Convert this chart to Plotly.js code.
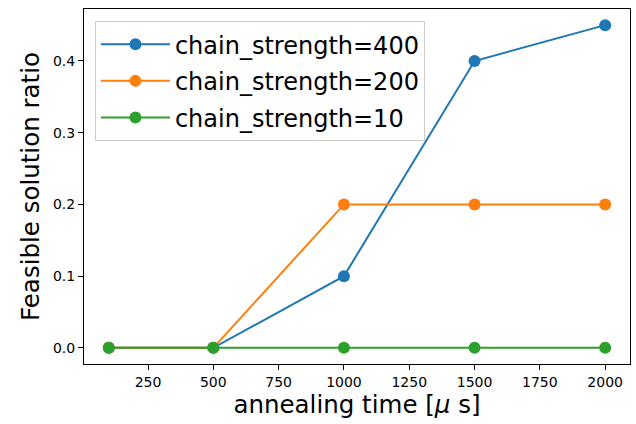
<!DOCTYPE html>
<html><head><meta charset="utf-8">
<script src="https://cdn.plot.ly/plotly-3.0.1.min.js"></script>
<style>html,body{margin:0;padding:0;background:#fff}#chart{width:636px;height:424px}</style>
</head><body><div id="chart"></div>
<script>
const annealingTime = [100, 500, 1000, 1500, 2000];
const cs400 = [0, 0, 0.1, 0.4, 0.45];
const cs200 = [0, 0, 0.2, 0.2, 0.2];
const cs10 = [0, 0, 0, 0, 0];
const seriesNames = ['chain_strength=400', 'chain_strength=200', 'chain_strength=10'];
const seriesColors = ['#1f77b4', '#ff7f0e', '#2ca02c'];
const xTicks = [250, 500, 750, 1000, 1250, 1500, 1750, 2000];
const yTicks = [0, 0.1, 0.2, 0.3, 0.4];

const series = [cs400, cs200, cs10];
const traces = series.map((ys, i) => ({
  x: annealingTime, y: ys, type: 'scatter', mode: 'lines+markers',
  name: seriesNames[i], legendgroup: 'g' + i,
  line: {color: seriesColors[i], width: 2},
  marker: {color: seriesColors[i], size: 12}
}));

const font = 'DejaVu Sans, sans-serif';
const layout = {
  width: 636, height: 424,
  margin: {l: 84, r: 6, t: 9, b: 60},
  paper_bgcolor: '#fff', plot_bgcolor: '#fff',
  font: {family: font, color: '#000'},
  showlegend: true,
  legend: {
    x: 0.02, y: 0.966, xanchor: 'left', yanchor: 'top',
    bgcolor: 'rgba(255,255,255,0.8)', bordercolor: '#cccccc', borderwidth: 1,
    font: {family: font, size: 24, color: '#000'},
    tracegroupgap: 2.5, itemwidth: 69
  },
  xaxis: {
    range: [5, 2095], tickvals: xTicks, ticktext: xTicks.map(String),
    showgrid: false, zeroline: false, showline: true, mirror: true,
    linecolor: '#000', linewidth: 1, ticks: 'outside', ticklen: 5, tickcolor: '#000',
    tickfont: {family: font, size: 14},
    title: {text: 'annealing time [<i>μ</i> s]', font: {family: font, size: 24.5}, standoff: 4}
  },
  yaxis: {
    range: [-0.0225, 0.4725], tickvals: yTicks, ticktext: yTicks.map(v => v.toFixed(1)),
    showgrid: false, zeroline: false, showline: true, mirror: true,
    linecolor: '#000', linewidth: 1, ticks: 'outside', ticklen: 5, tickcolor: '#000',
    tickfont: {family: font, size: 14},
    title: {text: 'Feasible solution ratio', font: {family: font, size: 24.5}, standoff: 6}
  }
};
Plotly.newPlot('chart', traces, layout, {displayModeBar: false, staticPlot: true});
</script></body></html>
